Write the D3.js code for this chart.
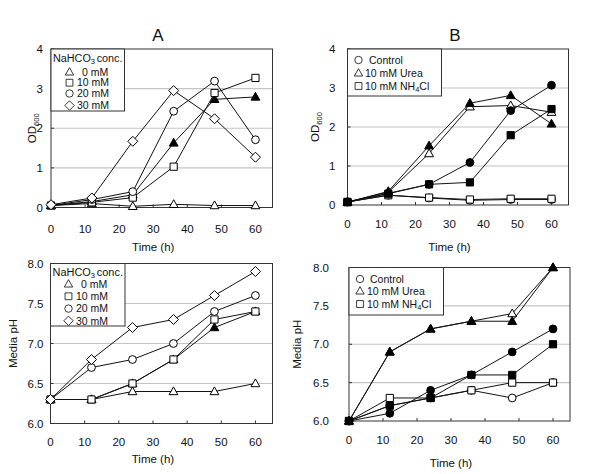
<!DOCTYPE html>
<html><head><meta charset="utf-8">
<script src="https://cdn.jsdelivr.net/npm/d3@7"></script>
<style>
body{margin:0;background:#fff;}
svg{font-family:"Liberation Sans",Arial,sans-serif;}
</style></head>
<body>
<svg id="c" width="600" height="474"></svg>
<script>
// ---------- DATA ----------
const timeH = [0, 12, 24, 36, 48, 60];

// Panel A, OD600
const odA_0mM   = [0.05, 0.10, 0.03, 0.08, 0.05, 0.05];
const odA_10mM  = [0.05, 0.13, 0.25, 1.03, 2.89, 3.27];
const odA_20mM  = [0.05, 0.20, 0.40, 2.43, 3.19, 1.71];
const odA_30mM  = [0.07, 0.24, 1.67, 2.95, 2.24, 1.27];
const odA_fTri  = [0.05, 0.15, 0.32, 1.63, 2.73, 2.79];

// Panel B, OD600
const odB_control = [0.08, 0.25, 0.18, 0.12, 0.14, 0.14];
const odB_urea    = [0.08, 0.33, 1.32, 2.52, 2.55, 2.38];
const odB_nh4cl   = [0.08, 0.25, 0.19, 0.14, 0.16, 0.16];
const odB_fCircle = [0.08, 0.30, 0.53, 1.09, 2.42, 3.07];
const odB_fTri    = [0.07, 0.35, 1.52, 2.61, 2.81, 2.08];
const odB_fSquare = [0.07, 0.29, 0.53, 0.58, 1.79, 2.46];

// Panel A, media pH
const phA_0mM  = [6.3, 6.3, 6.4, 6.4, 6.4, 6.5];
const phA_10mM = [6.3, 6.3, 6.5, 6.8, 7.3, 7.4];
const phA_20mM = [6.3, 6.7, 6.8, 7.0, 7.4, 7.6];
const phA_30mM = [6.3, 6.8, 7.2, 7.3, 7.6, 7.9];
const phA_fTri = [6.3, 6.3, 6.5, 6.8, 7.2, 7.4];

// Panel B, media pH
const phB_control = [6.0, 6.2, 6.3, 6.4, 6.3, 6.5];
const phB_urea    = [6.0, 6.9, 7.2, 7.3, 7.4, 8.0];
const phB_nh4cl   = [6.0, 6.3, 6.3, 6.4, 6.5, 6.5];
const phB_fCircle = [6.0, 6.1, 6.4, 6.6, 6.9, 7.2];
const phB_fTri    = [6.0, 6.9, 7.2, 7.3, 7.3, 8.0];
const phB_fSquare = [6.0, 6.2, 6.3, 6.6, 6.6, 7.0];

const xTicks = [0, 10, 20, 30, 40, 50, 60];
const odTicks = [0, 1, 2, 3, 4];
const phTicks = [6.0, 6.5, 7.0, 7.5, 8.0];
const legendA = ["0 mM", "10 mM", "20 mM", "30 mM"];
const legendB = ["Control", "10 mM Urea", "10 mM NH4Cl"];

// ---------- DRAW ----------
const svg = d3.select("#c");

function markerPath(shape, s) {
  if (shape === "circle") { const r = 3.9*s; return `M${r},0A${r},${r} 0 1,1 ${-r},0A${r},${r} 0 1,1 ${r},0Z`; }
  if (shape === "square") { const h = 3.6*s; return `M${-h},${-h}H${h}V${h}H${-h}Z`; }
  if (shape === "triangle") { const w = 4.4*s, t = 4.6*s, b = 3.2*s; return `M0,${-t}L${w},${b}L${-w},${b}Z`; }
  if (shape === "diamond") { const r = 5*s; return `M0,${-r}L${r},0L0,${r}L${-r},0Z`; }
}

function panel(cfg) {
  const x = d3.scaleLinear().domain([0, 65]).range([cfg.left, cfg.right]);
  const y = d3.scaleLinear().domain(cfg.yDomain).range([cfg.bottom, cfg.top]);
  const g = svg.append("g");

  g.selectAll("line.grid").data(cfg.grid).join("line")
    .attr("x1", cfg.left).attr("x2", cfg.right)
    .attr("y1", d => y(d)).attr("y2", d => y(d))
    .attr("stroke", "#c4c4c4").attr("stroke-width", 1.2);

  g.append("rect").attr("x", cfg.left).attr("y", cfg.top)
    .attr("width", cfg.right - cfg.left).attr("height", cfg.bottom - cfg.top)
    .attr("fill", "none").attr("stroke", "#333").attr("stroke-width", 1);

  g.selectAll("line.xt").data(xTicks).join("line")
    .attr("x1", d => x(d)).attr("x2", d => x(d))
    .attr("y1", cfg.bottom).attr("y2", cfg.bottom - 3)
    .attr("stroke", "#333");
  g.selectAll("text.xl").data(xTicks).join("text")
    .attr("x", d => x(d)).attr("y", cfg.bottom + cfg.xLabOff)
    .attr("text-anchor", "middle").attr("font-size", 11.5).attr("fill", "#111")
    .text(d => d);
  g.append("text").attr("x", (x(0) + x(60)) / 2).attr("y", cfg.timeY)
    .attr("text-anchor", "middle").attr("font-size", 11.5).attr("fill", "#111")
    .text("Time (h)");

  g.selectAll("line.yt").data(cfg.yTicks).join("line")
    .attr("x1", cfg.left).attr("x2", cfg.left + 3)
    .attr("y1", d => y(d)).attr("y2", d => y(d))
    .attr("stroke", "#333");
  g.selectAll("text.yl").data(cfg.yTicks).join("text")
    .attr("x", cfg.left - cfg.yLabGap).attr("y", d => y(d) + 4)
    .attr("text-anchor", "end").attr("font-size", 11.5).attr("fill", "#111")
    .text(d => cfg.yFmt(d));

  const yt = g.append("text")
    .attr("transform", `translate(${cfg.yTitleX},${(cfg.top + cfg.bottom) / 2}) rotate(-90)`)
    .attr("text-anchor", "middle").attr("font-size", 11.5).attr("fill", "#111");
  if (cfg.yTitle === "OD") {
    yt.append("tspan").text("OD");
    yt.append("tspan").attr("font-size", 7.5).attr("dy", 3).text("600");
  } else {
    yt.text("Media pH");
  }

  if (cfg.title) {
    g.append("text").attr("x", cfg.titleX).attr("y", 41)
      .attr("text-anchor", "middle").attr("font-size", 17).attr("fill", "#111")
      .text(cfg.title);
  }

  const line = d3.line().x((d, i) => x(timeH[i])).y(d => y(d));
  cfg.series.forEach(s => {
    g.append("path").datum(s.values).attr("d", line)
      .attr("fill", "none").attr("stroke", "#111").attr("stroke-width", 1);
  });
  cfg.series.forEach(s => {
    g.selectAll(null).data(s.values).join("path")
      .attr("transform", (d, i) => `translate(${x(timeH[i])},${y(d)})`)
      .attr("d", markerPath(s.shape, 1))
      .attr("fill", s.filled ? "#000" : "#fff")
      .attr("stroke", "#000").attr("stroke-width", 1);
  });

  const L = cfg.legend;
  const lg = g.append("g");
  lg.append("rect").attr("x", L.x0).attr("y", L.y0)
    .attr("width", L.x1 - L.x0).attr("height", L.y1 - L.y0)
    .attr("fill", "#fff").attr("stroke", "#333").attr("stroke-width", 1);
  if (L.title) {
    const t = lg.append("text").attr("x", L.x0 + 2).attr("y", L.titleY + 3.5)
      .attr("font-size", 10).attr("fill", "#111")
      .attr("textLength", L.x1 - L.x0 - 4).attr("lengthAdjust", "spacingAndGlyphs");
    t.append("tspan").text("NaHCO");
    t.append("tspan").attr("font-size", 7).attr("dy", 2).text("3");
    t.append("tspan").attr("dy", -2).attr("dx", 1.5).text("conc.");
  }
  L.items.forEach((it, i) => {
    const yy = L.rows[i];
    lg.append("path").attr("transform", `translate(${L.symX},${yy})`)
      .attr("d", markerPath(it.shape, 0.95))
      .attr("fill", "#fff").attr("stroke", "#222").attr("stroke-width", 0.9);
    const t = lg.append("text").attr("x", it.tx).attr("y", yy + 3.7)
      .attr("font-size", 10.5).attr("fill", "#111");
    const m = it.label.match(/^(.*NH)4(Cl)$/);
    if (m) {
      t.append("tspan").text(m[1]);
      t.append("tspan").attr("font-size", 7.5).attr("dy", 2.5).text("4");
      t.append("tspan").attr("dy", -2.5).text(m[2]);
    } else {
      t.text(it.label);
    }
  });
}

const fmt0 = d => d3.format("d")(d);
const fmt1 = d => d3.format(".1f")(d);

panel({
  left: 51, right: 272.5, top: 49, bottom: 207.5, yDomain: [0, 4],
  yTicks: odTicks, yFmt: fmt0, grid: [1, 2, 3], xLabOff: 25, timeY: 251,
  yLabGap: 8, yTitleX: 36, yTitle: "OD", title: "A", titleX: 158,
  series: [
    { values: odA_fTri, shape: "triangle", filled: true },
    { values: odA_0mM, shape: "triangle", filled: false },
    { values: odA_10mM, shape: "square", filled: false },
    { values: odA_20mM, shape: "circle", filled: false },
    { values: odA_30mM, shape: "diamond", filled: false }
  ],
  legend: {
    x0: 51, x1: 124.5, y0: 49, y1: 111, title: true, titleY: 58,
    rows: [72, 82.7, 93.5, 105.5], symX: 69.5,
    items: [
      { shape: "triangle", label: legendA[0], tx: 82 },
      { shape: "square", label: legendA[1], tx: 77 },
      { shape: "circle", label: legendA[2], tx: 77 },
      { shape: "diamond", label: legendA[3], tx: 77 }
    ]
  }
});

panel({
  left: 347.5, right: 568.5, top: 49, bottom: 205, yDomain: [0, 4],
  yTicks: odTicks, yFmt: fmt0, grid: [1, 2, 3], xLabOff: 23, timeY: 251,
  yLabGap: 12, yTitleX: 319, yTitle: "OD", title: "B", titleX: 455,
  series: [
    { values: odB_control, shape: "circle", filled: false },
    { values: odB_urea, shape: "triangle", filled: false },
    { values: odB_nh4cl, shape: "square", filled: false },
    { values: odB_fCircle, shape: "circle", filled: true },
    { values: odB_fTri, shape: "triangle", filled: true },
    { values: odB_fSquare, shape: "square", filled: true }
  ],
  legend: {
    x0: 347.5, x1: 441.5, y0: 49, y1: 96, title: false,
    rows: [60, 73, 86], symX: 358.5,
    items: [
      { shape: "circle", label: legendB[0], tx: 369 },
      { shape: "triangle", label: legendB[1], tx: 365 },
      { shape: "square", label: legendB[2], tx: 365 }
    ]
  }
});

panel({
  left: 50.5, right: 272.5, top: 263.5, bottom: 423.5, yDomain: [6, 8],
  yTicks: phTicks, yFmt: fmt1, grid: [6.5, 7.0, 7.5], xLabOff: 22, timeY: 463,
  yLabGap: 7, yTitleX: 17, yTitle: "pH", title: null,
  series: [
    { values: phA_fTri, shape: "triangle", filled: true },
    { values: phA_0mM, shape: "triangle", filled: false },
    { values: phA_10mM, shape: "square", filled: false },
    { values: phA_20mM, shape: "circle", filled: false },
    { values: phA_30mM, shape: "diamond", filled: false }
  ],
  legend: {
    x0: 50.5, x1: 125, y0: 263.5, y1: 326, title: true, titleY: 272,
    rows: [284, 296.3, 308.6, 320.8], symX: 68.5,
    items: [
      { shape: "triangle", label: legendA[0], tx: 81 },
      { shape: "square", label: legendA[1], tx: 76 },
      { shape: "circle", label: legendA[2], tx: 76 },
      { shape: "diamond", label: legendA[3], tx: 76 }
    ]
  }
});

panel({
  left: 349, right: 570, top: 267.5, bottom: 421, yDomain: [6, 8],
  yTicks: phTicks, yFmt: fmt1, grid: [6.5, 7.0, 7.5], xLabOff: 23, timeY: 467,
  yLabGap: 20, yTitleX: 301, yTitle: "pH", title: null,
  series: [
    { values: phB_control, shape: "circle", filled: false },
    { values: phB_urea, shape: "triangle", filled: false },
    { values: phB_nh4cl, shape: "square", filled: false },
    { values: phB_fCircle, shape: "circle", filled: true },
    { values: phB_fTri, shape: "triangle", filled: true },
    { values: phB_fSquare, shape: "square", filled: true }
  ],
  legend: {
    x0: 349, x1: 443.5, y0: 267.5, y1: 315, title: false,
    rows: [279, 291, 304], symX: 360,
    items: [
      { shape: "circle", label: legendB[0], tx: 370 },
      { shape: "triangle", label: legendB[1], tx: 367 },
      { shape: "square", label: legendB[2], tx: 367 }
    ]
  }
});
</script>
</body></html>
